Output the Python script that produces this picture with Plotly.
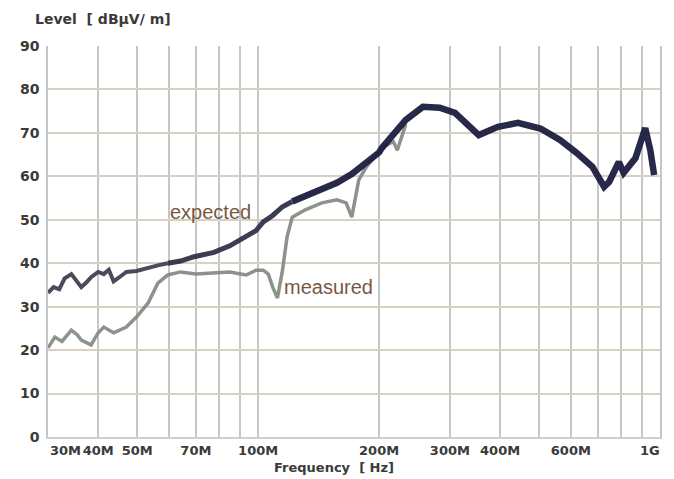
import math
import plotly.graph_objects as go

# Expected curve (frequency in MHz, level in dBµV/m)
exp_freq_mhz = [30, 31, 32, 33, 34.3, 35.2, 36.3, 37.3, 38.4, 40, 41.3, 42.5, 43.7, 45.5, 47,
                49.8, 53.2, 56.3, 59.6, 64.1, 69.3, 77.6, 85, 93.4, 98.8, 103, 108.7, 115,
                121.6, 131, 144, 157, 171, 186, 200, 203, 217, 233, 257, 283, 309, 340, 354,
                395, 443, 504, 564, 620, 679, 726, 747, 790, 812, 869, 919, 946, 967]
exp_level = [33.2, 34.5, 34.0, 36.5, 37.5, 36.0, 34.5, 35.5, 36.8, 38.0, 37.5, 38.5, 35.8, 37.0, 38.0,
             38.2, 39.0, 39.5, 40.0, 40.5, 41.5, 42.5, 44.0, 46.0, 47.5, 49.5, 51.0, 53.0,
             54.2, 55.5, 56.8, 58.5, 60.5, 63.0, 65.5, 66.5, 69.5, 73.0, 76.0, 75.8, 74.6, 70.7, 69.5,
             71.4, 72.3, 71.0, 68.4, 65.4, 62.2, 57.6, 58.7, 63.3, 60.8, 64.2, 71.1, 66.0, 60.3]

# Measured curve
meas_freq_mhz = [30, 31.2, 32.5, 34.3, 35.5, 36.3, 38.4, 40, 41.3, 43.7, 47, 49.8, 53.2, 56.3,
                 59.6, 64.1, 70, 77.6, 85, 93.4, 98.8, 103, 106, 108.7, 111.7, 115, 118, 121.6,
                 131, 144, 157, 165.6, 171, 178, 186, 203, 217, 222, 233]
meas_level = [20.5, 23.0, 22.0, 24.6, 23.5, 22.3, 21.2, 24.0, 25.3, 24.0, 25.3, 27.6, 30.8, 35.4,
              37.3, 38.0, 37.5, 37.7, 38.0, 37.3, 38.4, 38.4, 37.5, 34.5, 32.0, 38.4, 46.0, 50.6,
              52.3, 53.9, 54.6, 53.9, 50.6, 59.2, 62.2, 66.5, 68.0, 66.0, 72.0]

x_tick_vals = [40e6, 50e6, 70e6, 100e6, 200e6, 300e6, 400e6, 600e6]
x_tick_text = ["40M", "50M", "70M", "100M", "200M", "300M", "400M", "600M"]
edge_tick_vals = [30e6, 1e9]
edge_tick_text = ["30M", "1G"]
grid_vals = [30e6, 40e6, 50e6, 60e6, 70e6, 80e6, 90e6, 100e6, 200e6, 300e6, 400e6,
             500e6, 600e6, 700e6, 800e6, 900e6, 1e9]
y_tick_vals = [0, 10, 20, 30, 40, 50, 60, 70, 80, 90]

TICKFONT = "DejaVu Sans, Arial, sans-serif"
LABELFONT = "Liberation Sans, Arial, sans-serif"
TXT = "#3a3a3a"

# figure is placed with an 8px page margin, so its size is reduced by that offset
W, H = 666, 471
L, T, R, B = 30, 38, 12, 42
PW, PH = W - L - R, H - T - B

# line segments of the expected curve, growing thicker with frequency
seg_bounds = [0, exp_freq_mhz.index(59.6), exp_freq_mhz.index(121.6), len(exp_freq_mhz) - 1]
seg_styles = [("rgba(58,60,76,0.92)", 4.0), ("rgba(44,46,70,0.93)", 5.0),
              ("rgba(28,30,62,0.95)", 6.5)]

fig = go.Figure()
fig.add_trace(go.Scatter(x=[f * 1e6 for f in meas_freq_mhz], y=meas_level, mode="lines",
                         line=dict(color="rgba(128,134,130,0.9)", width=3.5), name="measured"))
for i, (col, wd) in enumerate(seg_styles):
    a, b = seg_bounds[i], seg_bounds[i + 1]
    fig.add_trace(go.Scatter(x=[f * 1e6 for f in exp_freq_mhz[a:b + 1]], y=exp_level[a:b + 1],
                             mode="lines", line=dict(color=col, width=wd), name="expected"))

fig.update_xaxes(type="log", range=[math.log10(30e6), math.log10(1e9)],
                 tickmode="array", tickvals=x_tick_vals, ticktext=x_tick_text,
                 showgrid=False, zeroline=False, ticks="",
                 tickfont=dict(family=TICKFONT, size=13, color=TXT, weight="bold"),
                 showline=True, linecolor="#cfcfcf", linewidth=1.5,
                 minor=dict(tickmode="array", tickvals=grid_vals, showgrid=True,
                            gridcolor="#c6c6c6", gridwidth=1.6, ticks=""),
                 ticklabelstandoff=1)
fig.update_yaxes(range=[0, 90], tickmode="array", tickvals=y_tick_vals,
                 showgrid=True, gridcolor="#d8d0c2", gridwidth=1.6, zeroline=False,
                 ticks="", tickfont=dict(family=TICKFONT, size=14, color=TXT, weight="bold"),
                 showline=True, linecolor="#c6c6c6", linewidth=1.5, mirror=True,
                 ticklabelstandoff=4)

for v, t, anc, xs in zip(edge_tick_vals, edge_tick_text, ["left", "right"], [0, 2]):
    fig.add_annotation(x=math.log10(v), y=0, xref="x", yref="y", text=t, showarrow=False,
                       yanchor="top", xanchor=anc, yshift=-4, xshift=xs,
                       font=dict(family=TICKFONT, size=13, color=TXT, weight="bold"))

fig.add_annotation(x=math.log10(76.3e6), y=51.8, text="expected", showarrow=False,
                   font=dict(family=LABELFONT, size=20, color="#7a5840"))
fig.add_annotation(x=math.log10(150e6), y=34.5, text="measured", showarrow=False,
                   font=dict(family=LABELFONT, size=20, color="#7a5840"))

fig.add_annotation(x=(15 - L) / PW, y=(H - B - 11) / PH, xref="paper", yref="paper",
                   text="Level&nbsp; [ dBµV/ m]", showarrow=False, xanchor="left",
                   yanchor="middle",
                   font=dict(family=TICKFONT, size=14, color=TXT, weight="bold"))
fig.add_annotation(x=(322 - L) / PW, y=(H - B - 460) / PH, xref="paper", yref="paper",
                   text="Frequency&nbsp; [ Hz]", showarrow=False, xanchor="center",
                   yanchor="middle",
                   font=dict(family=TICKFONT, size=13, color=TXT, weight="bold"))

fig.update_layout(width=W, height=H, margin=dict(l=L, r=R, t=T, b=B),
                  plot_bgcolor="white", paper_bgcolor="white", showlegend=False)

fig.write_html("out.html")
